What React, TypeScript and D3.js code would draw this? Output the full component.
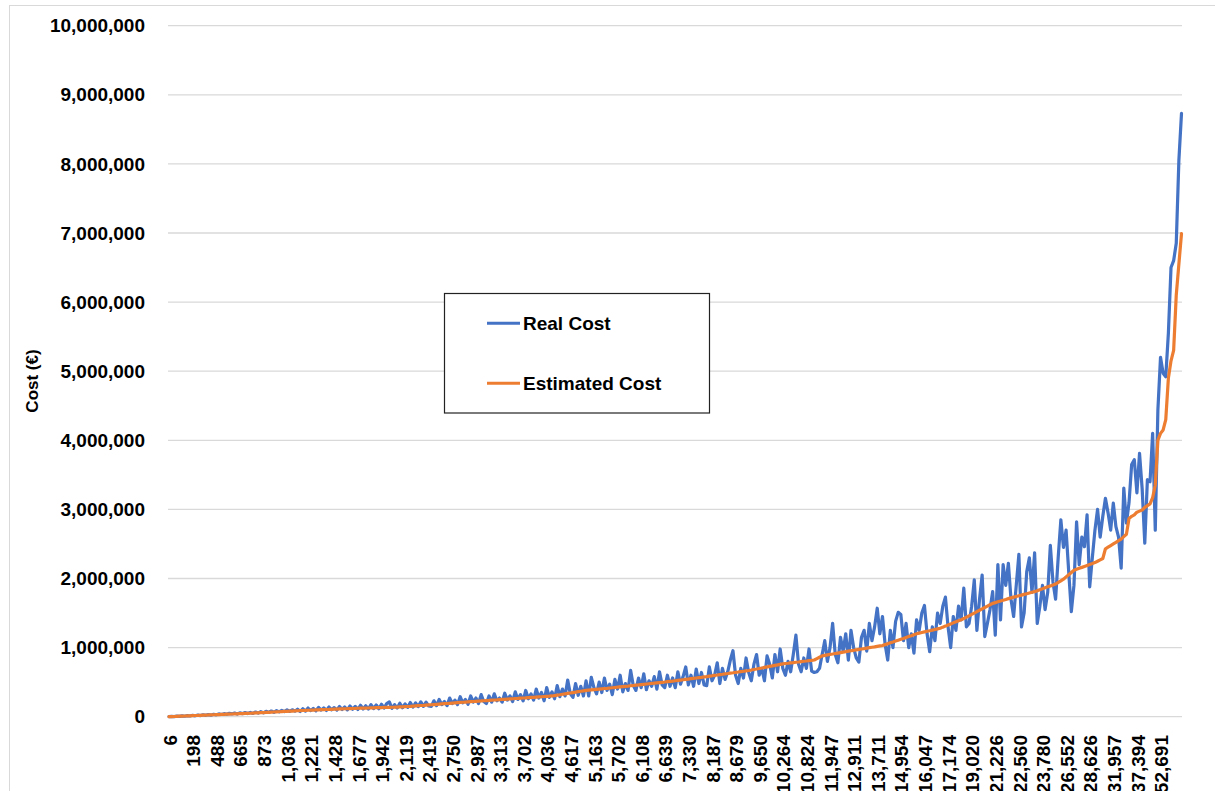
import React from "react";
import * as d3 from "d3";

// Category tick labels (every 9th category is labelled)
const tickLabels = [
  "6", "198", "488", "665", "873", "1,036", "1,221", "1,428", "1,677", "1,942",
  "2,119", "2,419", "2,750", "2,987", "3,313", "3,702", "4,036", "4,617", "5,163", "5,702",
  "6,108", "6,639", "7,330", "8,187", "8,679", "9,650", "10,264", "10,824", "11,947", "12,911",
  "13,711", "14,954", "16,047", "17,174", "19,020", "21,226", "22,560", "23,780", "26,552", "28,626",
  "31,957", "37,394", "52,691",
];
const labelEvery = 9;

// Estimated cost (thousand €) per category
const estimatedCostK = [
  0, 2, 3, 5, 7, 8, 10, 12, 13, 15,
  17, 18, 20, 22, 23, 25, 26, 28, 30, 31,
  33, 34, 36, 37, 39, 41, 42, 44, 45, 47,
  48, 50, 52, 54, 56, 58, 60, 62, 64, 66,
  68, 70, 72, 74, 76, 78, 80, 82, 84, 86,
  88, 90, 91, 93, 94, 96, 98, 99, 101, 102,
  104, 105, 107, 109, 110, 112, 113, 115, 116, 118,
  119, 120, 122, 123, 124, 125, 126, 128, 129, 130,
  131, 132, 134, 135, 136, 137, 138, 140, 141, 142,
  145, 148, 150, 153, 156, 159, 162, 164, 167, 170,
  173, 176, 179, 182, 185, 188, 191, 194, 197, 200,
  203, 206, 209, 212, 215, 218, 220, 223, 226, 228,
  231, 234, 236, 239, 242, 244, 247, 250, 252, 255,
  258, 260, 263, 265, 268, 271, 273, 276, 279, 281,
  284, 287, 289, 292, 295, 297, 300, 306, 312, 318,
  325, 331, 337, 343, 349, 355, 362, 368, 374, 380,
  384, 388, 392, 396, 400, 404, 408, 411, 415, 419,
  423, 427, 431, 435, 439, 443, 448, 452, 456, 460,
  465, 469, 473, 477, 481, 486, 490, 494, 498, 502,
  507, 511, 515, 520, 525, 530, 535, 540, 545, 550,
  555, 560, 565, 570, 576, 581, 587, 592, 598, 603,
  609, 614, 620, 625, 631, 636, 642, 647, 653, 658,
  664, 669, 675, 683, 690, 698, 705, 713, 720, 728,
  735, 743, 750, 758, 765, 770, 774, 779, 783, 788,
  792, 797, 802, 806, 811, 815, 820, 840, 860, 880,
  887, 894, 901, 907, 914, 921, 928, 935, 941, 948,
  955, 961, 968, 974, 980, 986, 993, 999, 1005, 1011,
  1018, 1024, 1030, 1043, 1056, 1069, 1081, 1094, 1107, 1120,
  1133, 1147, 1160, 1173, 1187, 1200, 1209, 1218, 1227, 1236,
  1244, 1253, 1262, 1271, 1280, 1296, 1311, 1327, 1342, 1358,
  1373, 1389, 1404, 1420, 1440, 1460, 1480, 1500, 1520, 1540,
  1560, 1580, 1600, 1620, 1640, 1651, 1663, 1674, 1686, 1697,
  1709, 1720, 1730, 1740, 1750, 1760, 1770, 1780, 1790, 1800,
  1810, 1824, 1838, 1851, 1865, 1879, 1893, 1906, 1920, 1943,
  1967, 1990, 2023, 2055, 2088, 2120, 2134, 2148, 2161, 2175,
  2189, 2203, 2216, 2230, 2250, 2270, 2290, 2430, 2453, 2477,
  2500, 2523, 2547, 2570, 2605, 2640, 2870, 2900, 2920, 2960,
  2975, 2990, 3030, 3055, 3080, 3170, 3350, 4000, 4100, 4150,
  4300, 4900, 5150, 5300, 6100, 6550, 6990,
];

// Real cost (thousand €) per category
const realCostK = [
  1, 4, 2, 8, 5, 12, 7, 15, 10, 20,
  13, 22, 16, 28, 20, 30, 22, 35, 27, 40,
  32, 44, 35, 48, 40, 52, 38, 55, 44, 60,
  46, 62, 48, 68, 52, 72, 55, 78, 62, 82,
  64, 88, 70, 92, 74, 98, 76, 100, 80, 108,
  75, 115, 80, 125, 88, 120, 85, 135, 95, 128,
  90, 140, 100, 132, 95, 148, 105, 140, 100, 155,
  108, 150, 105, 165, 112, 160, 110, 175, 118, 170,
  115, 180, 125, 190, 215, 120, 175, 125, 195, 130,
  185, 135, 205, 140, 200, 145, 215, 150, 210, 155,
  150, 230, 160, 250, 175, 220, 160, 270, 190, 240,
  175, 290, 200, 250, 180, 300, 210, 270, 190, 320,
  220, 190, 300, 210, 330, 230, 270, 210, 340, 240,
  300, 220, 360, 250, 320, 230, 380, 260, 330, 240,
  400, 270, 350, 230, 420, 280, 360, 260, 450, 290,
  400, 300, 530, 330, 280, 480, 310, 440, 300, 520,
  300, 570, 420, 330, 500, 350, 560, 380, 470, 320,
  540, 400, 600, 360, 480, 380, 670, 450, 380, 560,
  420, 620, 390, 520, 440, 580, 400, 650, 460, 420,
  600, 440, 560, 420, 650, 470, 580, 720, 460, 600,
  440, 690, 480, 640, 460, 450, 720, 520, 600, 780,
  480, 700, 540, 650, 820, 955, 600, 480, 700, 560,
  850, 640, 520, 760, 900, 600, 700, 520, 880, 760,
  560, 900, 650, 980, 700, 600, 800, 650, 900, 1180,
  760, 650, 850, 700, 980, 660, 640, 650, 700, 900,
  1100, 800, 1000, 1350, 900, 780, 1150, 950, 1200, 820,
  1250, 1000, 850, 790, 1150, 1250, 950, 1350, 1100, 1300,
  1570, 1200, 1450, 1050, 820, 1250, 1000, 1380, 1510, 1480,
  1100, 1350, 1000, 1200, 920, 1400, 1250, 1500, 1610, 1200,
  940, 1300, 1100, 1500, 1350, 1600, 1730, 1300, 1000, 1450,
  1250, 1600, 1400, 1860, 1300, 1350, 1600, 1980, 1250, 1700,
  2050, 1160, 1350, 1550, 1810, 1180, 2200, 1400, 2200, 1900,
  2220, 1700, 1450, 1900, 2350, 1300, 1500, 2100, 2300, 1800,
  2370, 1350, 1600, 1900, 1550, 1800, 2480, 1950, 1700, 2310,
  2850, 2450, 2700, 2100, 1520, 1900, 2820, 2200, 2600, 2460,
  2920, 1880, 2300, 2700, 3000, 2600, 2900, 3160, 2950, 2700,
  3090, 2750, 2600, 2150, 3310, 2800, 3100, 3650, 3720, 3240,
  3810, 3300, 2510, 3430, 3400, 4100, 2700, 4440, 5200, 4970,
  4920, 5550, 6500, 6600, 6850, 8050, 8730,
];

const yTicks = [0, 1e6, 2e6, 3e6, 4e6, 5e6, 6e6, 7e6, 8e6, 9e6, 1e7];

const series = [
  { name: "Real Cost", color: "#4472C4", values: realCostK },
  { name: "Estimated Cost", color: "#ED7D31", values: estimatedCostK },
];

const W = 1215;
const H = 791;
const FONT = "'Liberation Sans', Arial, Helvetica, sans-serif";

export default function App() {
  const n = Math.max(realCostK.length, estimatedCostK.length);
  const x = d3.scalePoint<number>().domain(d3.range(n)).range([169, 1181.5]);
  const y = d3.scaleLinear().domain([0, 10000000]).range([716.7, 25.7]);
  const fmt = d3.format(",");
  const line = (vals: number[]) =>
    d3
      .line<number>()
      .x((_, i) => x(i) as number)
      .y((v) => y(v * 1000))(vals) as string;

  return (
    <svg
      width={W}
      height={H}
      style={{ position: "absolute", left: 0, top: 0, background: "#fff" }}
      fontFamily={FONT}
    >
      <rect x={0} y={0} width={W} height={H} fill="#fff" />
      <rect x={9.5} y={5.5} width={1230} height={820} fill="none" stroke="#d9d9d9" strokeWidth={1} />

      {yTicks.map((t) => (
        <g key={t}>
          <line x1={168} x2={1182} y1={y(t)} y2={y(t)} stroke="#d9d9d9" strokeWidth={1.3} />
          <text
            x={145}
            y={y(t)}
            dy="0.35em"
            textAnchor="end"
            fontSize={19}
            fontWeight="bold"
            fill="#000"
          >
            {fmt(t)}
          </text>
        </g>
      ))}

      <text
        transform={`translate(32,${381}) rotate(-90)`}
        textAnchor="middle"
        dy="0.35em"
        fontSize={17}
        fontWeight="bold"
      >
        Cost (€)
      </text>

      {tickLabels.map((lab, j) => {
        const px = x(j * labelEvery) as number;
        return (
          <text
            key={lab}
            transform={`translate(${px + 1},735) rotate(-90)`}
            textAnchor="end"
            dy="0.35em"
            fontSize={19}
            fontWeight="bold"
          >
            {lab}
          </text>
        );
      })}

      {series.map((s) => (
        <path
          key={s.name}
          d={line(s.values)}
          fill="none"
          stroke={s.color}
          strokeWidth={3.2}
          strokeLinejoin="round"
          strokeLinecap="round"
        />
      ))}

      <rect x={444.5} y={293.5} width={265} height={119.5} fill="#fff" stroke="#222" strokeWidth={1.2} />
      {series.map((s, k) => (
        <g key={s.name}>
          <line x1={487} x2={520} y1={323.3 + k * 60} y2={323.3 + k * 60} stroke={s.color} strokeWidth={3} />
          <text x={523} y={330 + k * 60} fontSize={19} fontWeight="bold">
            {s.name}
          </text>
        </g>
      ))}
    </svg>
  );
}
